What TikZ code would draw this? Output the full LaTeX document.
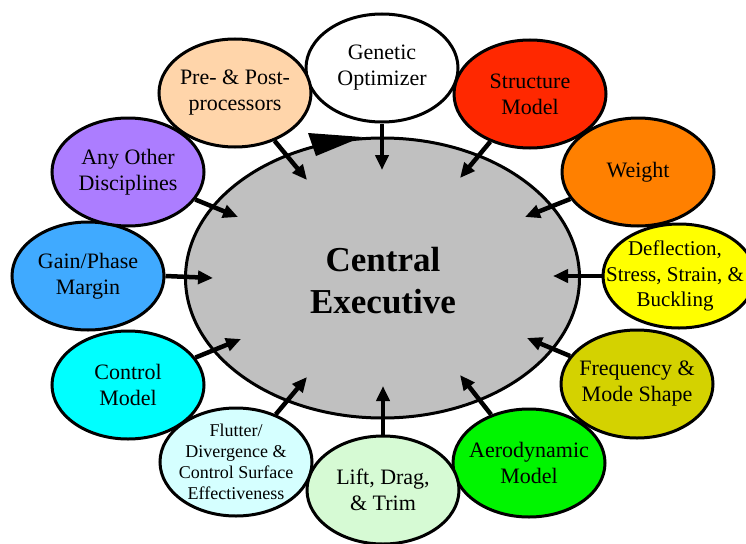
\documentclass[tikz,border=0pt]{standalone}
\usepackage{fontspec}
\setmainfont{Liberation Serif}
\usetikzlibrary{shapes.geometric,arrows.meta}
\definecolor{cStruct}{RGB}{255,40,0}
\definecolor{cWeight}{RGB}{255,128,0}
\definecolor{cDefl}{RGB}{255,255,0}
\definecolor{cFreq}{RGB}{212,210,0}
\definecolor{cAero}{RGB}{0,245,0}
\definecolor{cLift}{RGB}{214,250,212}
\definecolor{cFlut}{RGB}{213,255,255}
\definecolor{cCtrl}{RGB}{0,255,255}
\definecolor{cGain}{RGB}{64,170,255}
\definecolor{cAny}{RGB}{172,125,255}
\definecolor{cPre}{RGB}{255,213,170}
\definecolor{cCent}{RGB}{192,192,192}
\tikzset{
  sat/.style={ellipse, draw=black, line width=3pt, inner sep=-14pt,
    minimum width=152pt, minimum height=108pt, align=center,
    font=\fontsize{22}{26}\selectfont},
  arr/.style={line width=4.5pt, -{Triangle[length=15pt,width=13pt]}},
}
\begin{document}
\begin{tikzpicture}[x=1pt,y=-1pt]
\useasboundingbox (0,0) rectangle (746,543);
% central
\node[ellipse, draw=black, line width=3pt, fill=cCent, inner sep=0pt,
  minimum width=394pt, minimum height=280pt] (cent) at (382.5,278) {};
\node[align=center, font=\fontsize{35}{42}\selectfont\bfseries] (ctxt) at (383,281) {Central\\Executive};
\fill (308,133) -- (316,156) -- (362,137) -- cycle;
% satellites
\node[sat, fill=white]  (gen)  at (382,68)  {Genetic\\Optimizer};
\node[sat, fill=cStruct] (str) at (530,94)  {Structure\\Model};
\node[sat, fill=cWeight] (wei) at (638,172) {Weight};
\node[sat, fill=cDefl, minimum height=104pt] (def) at (679,276) {};
\node[align=center, font=\fontsize{21}{25.5}\selectfont, inner sep=0pt] (deft) at (675,276) {Deflection,\\Stress, Strain, \&\\Buckling};
\node[sat, fill=cFreq]  (frq)  at (637,384) {Frequency \&\\Mode Shape};
\node[sat, fill=cAero]  (aer)  at (529,463) {Aerodynamic\\Model};
\node[sat, fill=cLift]  (lft)  at (383,490) {Lift, Drag,\\\& Trim};
\node[sat, fill=cFlut, font=\fontsize{18}{21}\selectfont] (flt) at (236,462) {Flutter/\\Divergence \&\\Control Surface\\Effectiveness};
\node[sat, fill=cCtrl]  (ctl)  at (128,385) {Control\\Model};
\node[sat, fill=cGain]  (gan)  at (88,276)  {Gain/Phase\\Margin};
\node[sat, fill=cAny]   (any)  at (128,172) {Any Other\\Disciplines};
\node[sat, fill=cPre]   (pre)  at (235,93)  {Pre- \& Post-\\processors};
% arrow tips
\coordinate (tgen) at (382,170);
\coordinate (tstr) at (460,178);
\coordinate (twei) at (525,217);
\coordinate (tdef) at (553,276);
\coordinate (tfrq) at (527,338);
\coordinate (taer) at (460,375);
\coordinate (tlft) at (383,386);
\coordinate (tflt) at (307,377);
\coordinate (tctl) at (241,339);
\coordinate (tgan) at (213,278);
\coordinate (tany) at (238,217);
\coordinate (tpre) at (307,180);
\draw[arr] (gen) -- (tgen);
\draw[arr] (str) -- (tstr);
\draw[arr] (wei) -- (twei);
\draw[arr] (def.west) -- (tdef);
\draw[arr] (frq) -- (tfrq);
\draw[arr] (aer) -- (taer);
\draw[arr] (lft) -- (tlft);
\draw[arr] (flt) -- (tflt);
\draw[arr] (ctl) -- (tctl);
\draw[arr] (gan.east) -- (tgan);
\draw[arr] (any) -- (tany);
\draw[arr] (pre) -- (tpre);
\end{tikzpicture}
\end{document}
